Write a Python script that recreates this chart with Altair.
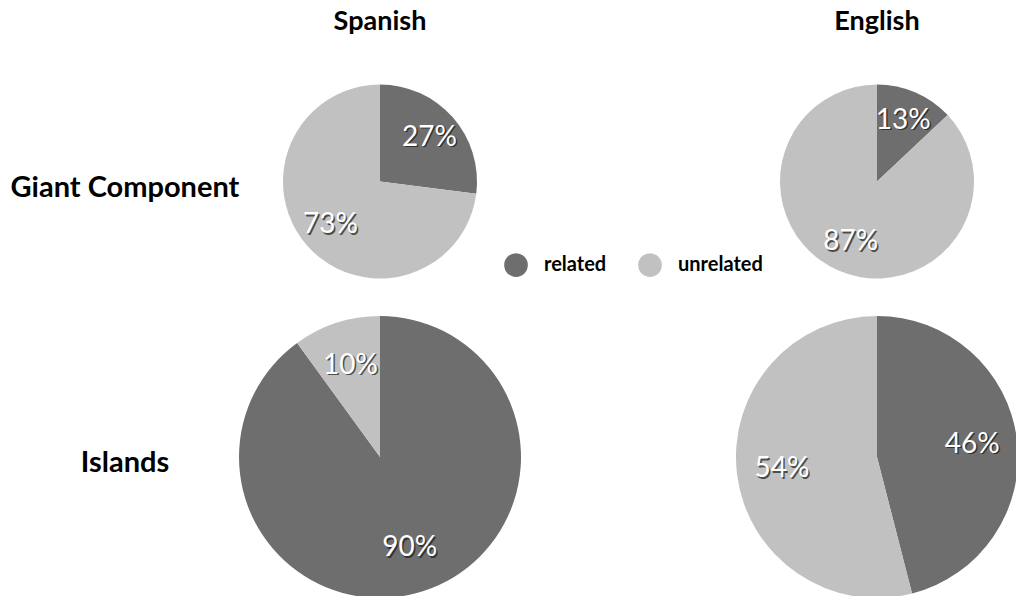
import altair as alt
import pandas as pd

languages = ["Spanish", "English"]
components = ["Giant Component", "Islands"]
categories = ["related", "unrelated"]
spanish_related = [27, 90]
spanish_unrelated = [73, 10]
english_related = [13, 46]
english_unrelated = [87, 54]

rows = []
for lang, rel, unrel in [("Spanish", spanish_related, spanish_unrelated),
                         ("English", english_related, english_unrelated)]:
    for i, comp in enumerate(components):
        rows.append({"lang": lang, "comp": comp, "cat": "related", "order": 0, "value": rel[i]})
        rows.append({"lang": lang, "comp": comp, "cat": "unrelated", "order": 1, "value": unrel[i]})
df = pd.DataFrame(rows)

FONT = "Lato"
x_enc = alt.X("lang:N", scale=alt.Scale(type="point", domain=languages, range=[372, 869], padding=0), axis=None)
y_enc = alt.Y("comp:N", scale=alt.Scale(type="point", domain=components, range=[173.5, 449], padding=0), axis=None)
theta_scale = alt.Scale(domain=[0, 100], range=[0, 6.283185307179586])
color_scale = alt.Scale(domain=categories, range=["#6e6e6e", "#c1c1c1"])
legend = alt.Legend(orient="none", legendX=496, legendY=245, direction="horizontal", title=None,
                    symbolType="circle", symbolSize=560, symbolStrokeWidth=0,
                    labelFont=FONT, labelFontSize=20, labelFontWeight="bold", labelColor="#000000",
                    labelOffset=16, columnPadding=31)

base = alt.Chart(df).transform_window(
    end="sum(value)", groupby=["lang", "comp"], sort=[alt.SortField("order")], frame=[None, 0]
).transform_calculate(
    start="datum.end - datum.value", mid="datum.end - datum.value / 2", label="datum.value + '%'"
)

layers = []
for comp, R in [("Giant Component", 97), ("Islands", 141)]:
    b = base.transform_filter(alt.datum.comp == comp)
    arc = b.mark_arc(radius=R).encode(
        x=x_enc, y=y_enc,
        theta=alt.Theta("start:Q", scale=theta_scale), theta2="end:Q",
        color=alt.Color("cat:N", scale=color_scale, legend=legend),
    )
    r = R * 0.68
    shadow = b.mark_text(radius=r, font=FONT, fontSize=28, color="#1a1a1a", opacity=0.7, dx=1.5, dy=1.5).encode(
        x=x_enc, y=y_enc, theta=alt.Theta("mid:Q", scale=theta_scale), text="label:N")
    label = b.mark_text(radius=r, font=FONT, fontSize=28, color="#ffffff").encode(
        x=x_enc, y=y_enc, theta=alt.Theta("mid:Q", scale=theta_scale), text="label:N")
    layers += [arc, shadow, label]

col_titles = alt.Chart(pd.DataFrame({"lang": languages})).mark_text(
    font=FONT, fontSize=27, fontWeight="bold", color="#000000", baseline="top").encode(
    x=x_enc, y=alt.value(1), text="lang:N")
row_titles = alt.Chart(pd.DataFrame({"comp": components})).mark_text(
    font=FONT, fontSize=29, fontWeight="bold", color="#000000", dy=6).encode(
    x=alt.value(117), y=y_enc, text="comp:N")

chart = alt.layer(*layers, col_titles, row_titles).properties(
    width=1008, height=588, padding=0, autosize=alt.AutoSizeParams(type="none")
).configure_view(stroke=None)

chart.save("out.html", embed_options={"renderer": "svg", "actions": False})
